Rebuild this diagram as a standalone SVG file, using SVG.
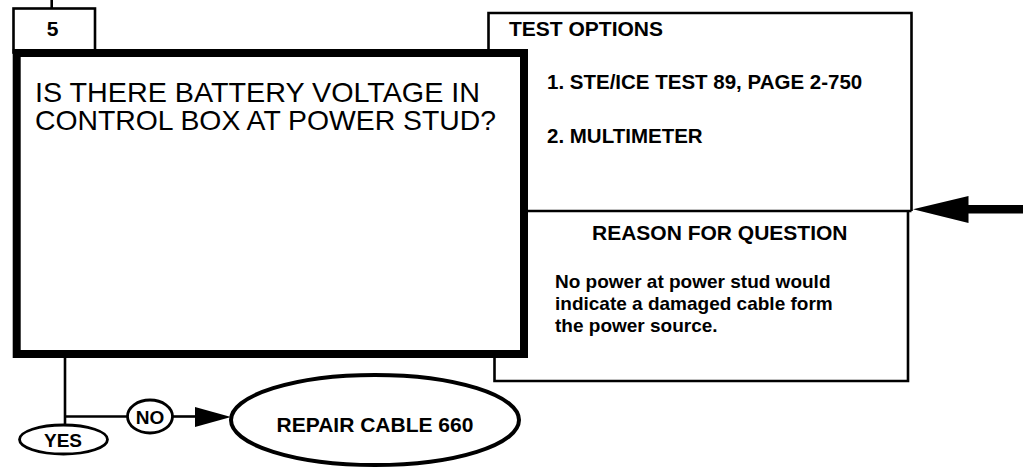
<svg xmlns="http://www.w3.org/2000/svg" width="1023" height="468" viewBox="0 0 1023 468">
<defs>
<style>
.bg{fill:#ffffff}
.thin{fill:none;stroke:#000;stroke-width:2.6;stroke-linejoin:miter}
.thick{fill:none;stroke:#000;stroke-width:8;stroke-linejoin:miter}
.oval{fill:#fff;stroke:#000;stroke-width:2.8}
.bigoval{fill:#fff;stroke:#000;stroke-width:4}
.conn{fill:none;stroke:#000;stroke-width:2.6}
.head{fill:#000;stroke:none}
text{font-family:"Liberation Sans",Arial,Helvetica,sans-serif;fill:#000}
.q{font-size:28px}
.hd{font-size:21px;font-weight:bold}
.it{font-size:20.5px;font-weight:bold}
.body{font-size:19px;font-weight:bold}
.num{font-size:21px;font-weight:bold}
.lbl{font-size:19px;font-weight:bold}
.term{font-size:21px;font-weight:bold}
</style>
</defs>
<rect class="bg" x="0" y="0" width="1023" height="468"/>

<g id="connectors">
  <line class="conn" x1="51.7" y1="0" x2="51.7" y2="9"/>
  <polyline class="conn" points="65,357 65,425"/>
  <line class="conn" x1="65" y1="416.5" x2="128" y2="416.5"/>
  <line class="conn" x1="172.5" y1="416.5" x2="200" y2="416.5"/>
  <polygon class="head" points="195,407 231,417 195,427"/>
  <rect class="head" x="966" y="205" width="57" height="8.5"/>
  <polygon class="head" points="913,209.3 968.5,196 968.5,223"/>
</g>

<g id="test-options">
  <polyline class="thin" points="488.5,49 488.5,13 911.5,13 911.5,211"/>
  <line class="thin" x1="527" y1="211" x2="911.5" y2="211"/>
  <text class="hd" x="509" y="35.7">TEST OPTIONS</text>
  <text class="it" x="547" y="88.5">1. STE/ICE TEST 89, PAGE 2-750</text>
  <text class="it" x="547" y="143">2. MULTIMETER</text>
</g>

<g id="reason">
  <polyline class="thin" points="908,211 908,381 494.5,381 494.5,357"/>
  <text class="hd" x="592" y="240">REASON FOR QUESTION</text>
  <text class="body" x="555" y="288">No power at power stud would</text>
  <text class="body" x="555" y="310">indicate a damaged cable form</text>
  <text class="body" x="555" y="332">the power source.</text>
</g>

<g id="step-number">
  <rect class="thin" x="13.5" y="8.5" width="81.5" height="44"/>
  <text class="num" x="52.5" y="36" text-anchor="middle">5</text>
</g>

<g id="question">
  <rect class="thick" x="16.7" y="53" width="507.3" height="301"/>
  <text class="q" x="35" y="102" textLength="445" lengthAdjust="spacingAndGlyphs">IS THERE BATTERY VOLTAGE IN</text>
  <text class="q" x="35" y="130" textLength="461" lengthAdjust="spacingAndGlyphs">CONTROL BOX AT POWER STUD?</text>
</g>

<g id="no">
  <ellipse class="oval" cx="150" cy="416.5" rx="22.5" ry="16.5"/>
  <text class="lbl" x="150" y="423.5" text-anchor="middle">NO</text>
</g>

<g id="yes">
  <ellipse class="oval" cx="63.5" cy="439.5" rx="44" ry="14.5"/>
  <text class="lbl" x="63" y="446.5" text-anchor="middle">YES</text>
</g>

<g id="repair-cable">
  <ellipse class="bigoval" cx="375" cy="420" rx="144" ry="45"/>
  <text class="term" x="375" y="431.5" text-anchor="middle">REPAIR CABLE 660</text>
</g>
</svg>
